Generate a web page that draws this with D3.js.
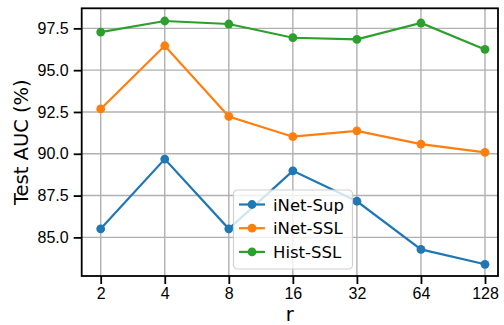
<!DOCTYPE html>
<html>
<head>
<meta charset="UTF-8" />
<script src="https://d3js.org/d3.v7.min.js"></script>
<style>
  body { margin: 0; background: white; }
  svg { font-family: "DejaVu Sans", sans-serif; }
</style>
</head>
<body>
<div id="chart"></div>
<script>
const rValues = [2, 4, 8, 16, 32, 64, 128];
const inetSup = [85.51, 89.68, 85.51, 88.98, 87.16, 84.28, 83.39];
const inetSsl = [92.68, 96.46, 92.23, 91.02, 91.37, 90.58, 90.08];
const histSsl = [97.28, 97.94, 97.76, 96.94, 96.84, 97.82, 96.24];
const yTicks = [85.0, 87.5, 90.0, 92.5, 95.0, 97.5];
const seriesNames = ["iNet-Sup", "iNet-SSL", "Hist-SSL"];
const seriesColors = ["#1f77b4", "#ff7f0e", "#2ca02c"];

const W = 504, H = 325;
const mLeft = 81.7, mRight = 498, mTop = 8.3, mBottom = 276;

const svg = d3.select("#chart").append("svg").attr("width", W).attr("height", H);

const x = d3.scaleLog().base(2).domain([2, 128]).range([100.7, 485]);
const y = d3.scaleLinear().domain([82.69, 98.7]).range([mBottom, mTop]);

// grid
const grid = svg.append("g");
grid.selectAll(".gx").data(rValues).join("line")
  .attr("x1", d => x(d)).attr("x2", d => x(d))
  .attr("y1", mTop).attr("y2", mBottom)
  .attr("stroke", "#b0b0b0").attr("stroke-width", 1.4);
grid.selectAll(".gy").data(yTicks).join("line")
  .attr("y1", d => y(d)).attr("y2", d => y(d))
  .attr("x1", mLeft).attr("x2", mRight)
  .attr("stroke", "#b0b0b0").attr("stroke-width", 1.4);

// axes
const xAxis = d3.axisBottom(x).tickValues(rValues).tickFormat(d3.format("d")).tickSize(8).tickPadding(4);
const yAxis = d3.axisLeft(y).tickValues(yTicks).tickFormat(d3.format(".1f")).tickSize(8).tickPadding(5);

const gx = svg.append("g").attr("transform", `translate(0,${mBottom})`).call(xAxis);
const gy = svg.append("g").attr("transform", `translate(${mLeft},0)`).call(yAxis);
[gx, gy].forEach(g => {
  g.select(".domain").remove();
  g.selectAll(".tick line").attr("stroke", "#000").attr("stroke-width", 1.8);
  g.selectAll(".tick text").attr("fill", "#000").attr("font-size", 16);
});

// lines
const series = [inetSup, inetSsl, histSsl];
const line = d3.line().x((d, i) => x(rValues[i])).y(d => y(d));
series.forEach((vals, k) => {
  svg.append("path").datum(vals)
    .attr("d", line).attr("fill", "none")
    .attr("stroke", seriesColors[k]).attr("stroke-width", 2.2);
  svg.append("g").selectAll("circle").data(vals).join("circle")
    .attr("cx", (d, i) => x(rValues[i])).attr("cy", d => y(d))
    .attr("r", 4.4).attr("fill", seriesColors[k]);
});

// frame
svg.append("rect").attr("x", mLeft).attr("y", mTop)
  .attr("width", mRight - mLeft).attr("height", mBottom - mTop)
  .attr("fill", "none").attr("stroke", "#000").attr("stroke-width", 1.8);

// axis labels
svg.append("text").attr("x", (mLeft + mRight) / 2).attr("y", 321)
  .attr("text-anchor", "middle").attr("font-size", 19.5).text("r");
svg.append("text").attr("transform", `translate(27.5,${(mTop + mBottom) / 2}) rotate(-90)`)
  .attr("text-anchor", "middle").attr("font-size", 19.5).text("Test AUC (%)");

// legend
const lg = svg.append("g").attr("transform", "translate(233.5,190)");
lg.append("rect").attr("width", 119).attr("height", 79).attr("rx", 4)
  .attr("fill", "white").attr("fill-opacity", 0.8)
  .attr("stroke", "#d0d0d0").attr("stroke-width", 1.2);
seriesNames.forEach((name, k) => {
  const yy = 14.5 + k * 23.7;
  lg.append("line").attr("x1", 5.5).attr("x2", 31.5).attr("y1", yy).attr("y2", yy)
    .attr("stroke", seriesColors[k]).attr("stroke-width", 2.2);
  lg.append("circle").attr("cx", 18.5).attr("cy", yy).attr("r", 4.4).attr("fill", seriesColors[k]);
  lg.append("text").attr("x", 39.5).attr("y", yy + 6).attr("font-size", 16.5).text(name);
});
</script>
</body>
</html>
